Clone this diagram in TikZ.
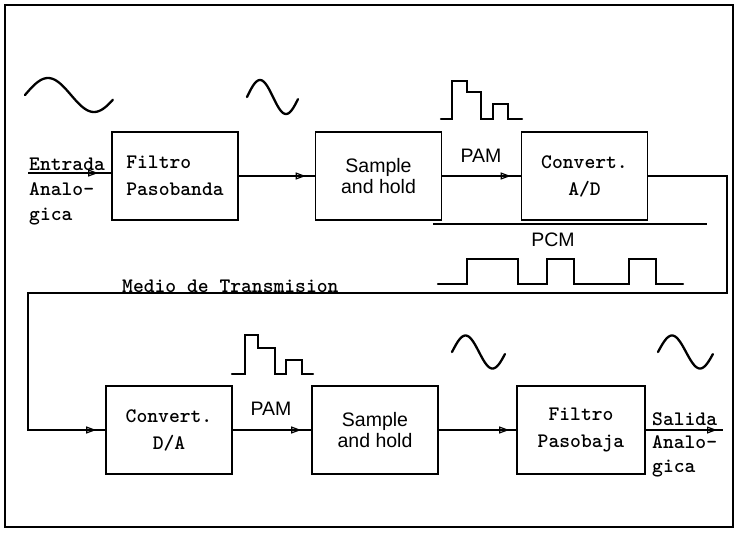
\documentclass[tikz,border=0pt]{standalone}
\usepackage{fontspec}
\setmainfont{Liberation Sans}
\usetikzlibrary{arrows.meta,decorations.markings}
\begin{document}
\begin{tikzpicture}[x=1pt,y=-1pt,
  box/.style={draw, line width=1.6pt, minimum width=126pt, minimum height=88pt, inner sep=0pt},
  mono/.style={font=\ttfamily\bfseries\fontsize{20.6}{27}\selectfont},
  sans/.style={font=\fontsize{19.5}{21}\selectfont},
  lbl/.style={inner sep=0pt},
  conn/.style={line width=1.3pt},
  tipat/.style={postaction={decorate}, decoration={markings, mark=at position -#1 with {\arrow{Triangle[open,length=10pt,width=7pt,line width=1.2pt]}}}},
  wave/.style={line width=2.3pt, line cap=round, line join=round},
  frame/.style={line width=2.5pt}]
\useasboundingbox (0,0) rectangle (738,536);
\draw[frame] (5,5) rectangle (733,527);

% boxes
\node[box, mono, align=left] (fpb) at (175,176) {Filtro\\Pasobanda};
\node[box, sans, align=center] (sh1) at (378.5,176) {Sample\\and hold};
\node[box, mono, align=center] (ad) at (584.5,176) {Convert.\\A/D};
\node[box, mono, align=center] (da) at (169,430) {Convert.\\D/A};
\node[box, sans, align=center] (sh2) at (375,430) {Sample\\and hold};
\node[box, mono, align=center, minimum width=128pt] (fpj) at (581,430) {Filtro\\Pasobaja};

% labels
\node[mono, lbl, anchor=base west] (lin1) at (29,170) {Entrada};
\node[mono, lbl, anchor=base west] (lin2) at (29,195) {Analo-};
\node[mono, lbl, anchor=base west] (lin3) at (29,220) {gica};
\node[mono, lbl, anchor=base west] (out1) at (652,425) {Salida};
\node[mono, lbl, anchor=base west] (out2) at (652,448) {Analo-};
\node[mono, lbl, anchor=base west] (out3) at (652,472) {gica};
\node[sans, lbl, anchor=base] (pam1) at (481,162) {PAM};
\node[sans, lbl, anchor=base] (pam2) at (271,415) {PAM};
\node[sans, lbl, anchor=base] (pcm) at (553,246) {PCM};
\node[mono, lbl, anchor=base west] (medio) at (122,292) {Medio de Transmision};

% free ends
\coordinate (inL) at (28,173);
\coordinate (outR) at (723,430);
\coordinate (tr1) at (727,293);
\coordinate (tr2) at (28,293);

% connectors
\draw[conn, tipat=13pt] (inL) -- (inL -| fpb.west);
\draw[conn, tipat=9pt] (fpb.east) -- (sh1.west);
\draw[conn, tipat=10pt] (sh1.east) -- (ad.west);
\draw[conn, tipat=9pt] (ad.east) -| (tr1) -- (tr2) |- (da.west);
\draw[conn, tipat=10pt] (da.east) -- (sh2.west);
\draw[conn, tipat=7pt] (sh2.east) -- (fpj.west);
\draw[conn, tipat=6pt] (fpj.east) -- (outR);

% separator line under A/D
\draw[line width=1.2pt] (433,224) -- (707,224);

% sine waves
\draw[wave] plot[domain=0:1.91, samples=60, smooth] ({25+46*\x}, {95-17*sin(\x*180)});
\draw[wave] plot[domain=0:1.96, samples=60, smooth] ({247+26*\x}, {97-17*sin(\x*180)});
\draw[wave] plot[domain=0:1.96, samples=60, smooth] ({452+27*\x}, {352-16.5*sin(\x*180)});
\draw[wave] plot[domain=0:1.96, samples=60, smooth] ({658+28*\x}, {352-16.5*sin(\x*180)});

% PAM waveforms
\draw[wave, line join=miter] (441,119) -- (452,119) -- (452,81) -- (467,81) -- (467,92) -- (481,92) -- (481,119) -- (493,119) -- (493,104) -- (508,104) -- (508,119) -- (522,119);
\draw[wave, line join=miter] (232,374) -- (245,374) -- (245,335) -- (258,335) -- (258,348) -- (275,348) -- (275,374) -- (286,374) -- (286,360) -- (302,360) -- (302,374) -- (313,374);

% PCM waveform
\draw[wave, line join=miter] (438,284) -- (467,284) -- (467,259) -- (518,259) -- (518,284) -- (547,284) -- (547,259) -- (574,259) -- (574,284) -- (629,284) -- (629,259) -- (656,259) -- (656,284) -- (683,284);
\end{tikzpicture}
\end{document}
